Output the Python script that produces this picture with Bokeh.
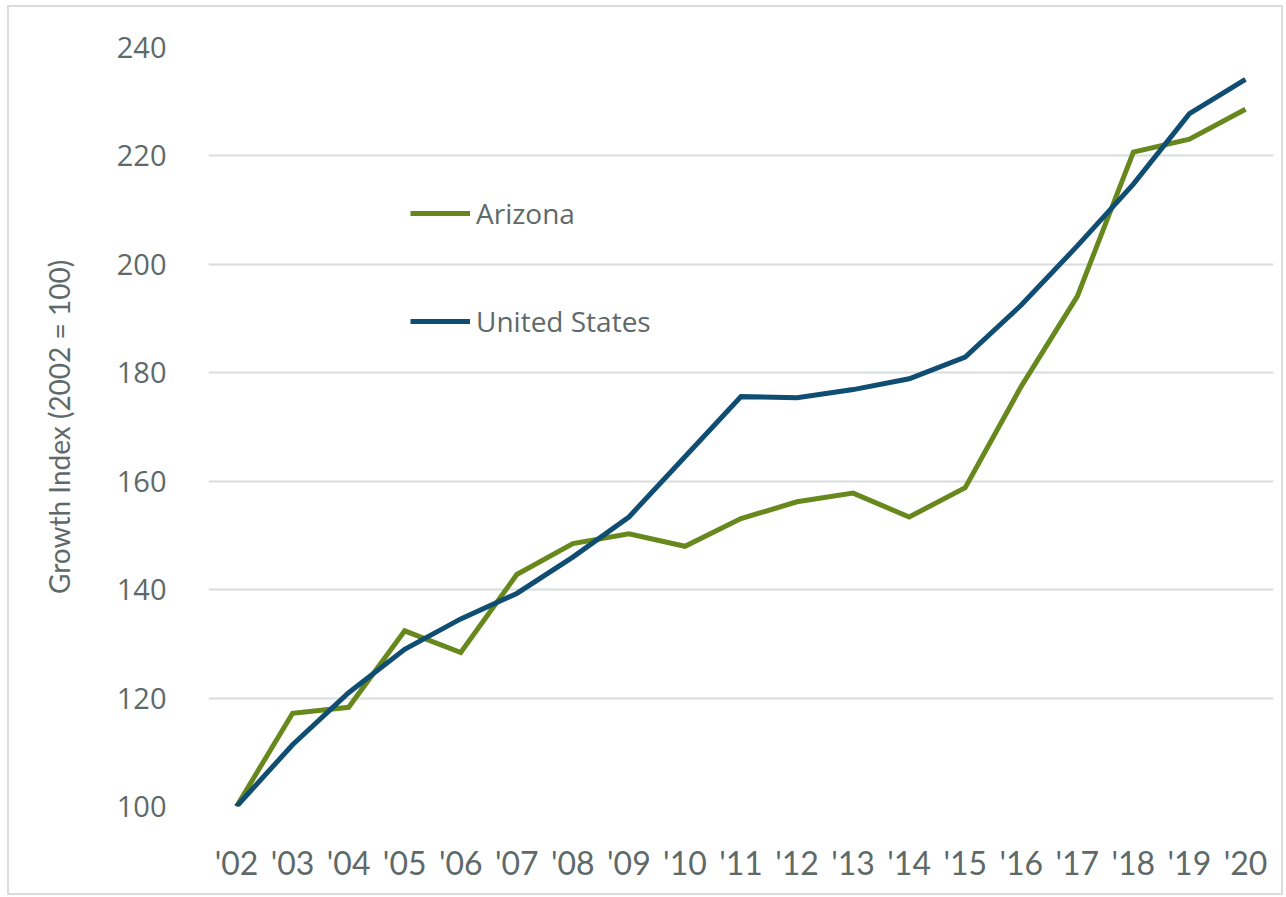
from bokeh.plotting import figure
from bokeh.models import FactorRange, Range1d, FixedTicker, Legend, LegendItem, ColumnDataSource
from bokeh.embed import file_html
from bokeh.resources import INLINE

years = ["'02", "'03", "'04", "'05", "'06", "'07", "'08", "'09", "'10", "'11",
         "'12", "'13", "'14", "'15", "'16", "'17", "'18", "'19", "'20"]
arizona = [100, 117.2, 118.3, 132.4, 128.4, 142.8, 148.5, 150.3, 148.0, 153.1,
           156.2, 157.8, 153.4, 158.8, 177.5, 194.1, 220.7, 223.1, 228.6]
united_states = [100, 111.4, 121.0, 129.0, 134.6, 139.3, 146.0, 153.4, 164.5, 175.6,
                 175.4, 176.9, 178.9, 182.9, 192.5, 203.4, 214.8, 227.8, 234.1]
y_ticks = [100, 120, 140, 160, 180, 200, 220, 240]

GREEN = "#67881c"
BLUE = "#0f4d72"
TEXT = "#5e6a6a"
GRID = "#d9dcdc"

src = ColumnDataSource(dict(year=years, az=arizona, us=united_states))

p = figure(width=1276, height=890, x_range=FactorRange(factors=years, range_padding=0),
           y_range=Range1d(100, 240), output_backend="svg", toolbar_location=None,
           min_border_left=199, min_border_right=12, min_border_top=40, min_border_bottom=91)
p.styles = {"border": "2px solid #dcdcdc", "box-sizing": "border-box",
            "margin-left": "7px", "margin-top": "5px"}
p.outline_line_color = None
p.background_fill_color = "white"

p.xgrid.grid_line_color = None
p.ygrid.grid_line_color = GRID
p.ygrid.grid_line_width = 2
p.yaxis.ticker = FixedTicker(ticks=y_ticks)

for ax in (p.xaxis[0], p.yaxis[0]):
    ax.axis_line_color = None
    ax.major_tick_line_color = None
    ax.minor_tick_line_color = None
    ax.major_label_text_color = TEXT

p.yaxis.major_label_text_font = "Open Sans"
p.yaxis.major_label_text_font_size = "29px"
p.yaxis.major_label_standoff = 36
p.yaxis.axis_label = "Growth Index (2002 = 100)"
p.yaxis.axis_label_text_font = "Lato"
p.yaxis.axis_label_text_font_style = "normal"
p.yaxis.axis_label_text_font_size = "28px"
p.yaxis.axis_label_text_color = TEXT
p.yaxis.axis_label_standoff = 38

p.xaxis.major_label_text_font = "Lato"
p.xaxis.major_label_text_font_size = "32px"
p.xaxis.major_label_standoff = 30

r_az = p.line("year", "az", source=src, line_color=GREEN, line_width=5, line_join="miter")
r_us = p.line("year", "us", source=src, line_color=BLUE, line_width=5, line_join="miter")

legend = Legend(items=[LegendItem(label="Arizona", renderers=[r_az]),
                       LegendItem(label="United States", renderers=[r_us])],
                location=(202, 465), orientation="vertical",
                glyph_width=60, glyph_height=40, label_height=40, spacing=68,
                padding=0, margin=0, label_standoff=6,
                label_text_font="Open Sans", label_text_font_size="28px",
                label_text_color=TEXT, border_line_color=None,
                background_fill_alpha=0)
p.add_layout(legend)

open("out.html", "w").write(file_html(p, INLINE))
